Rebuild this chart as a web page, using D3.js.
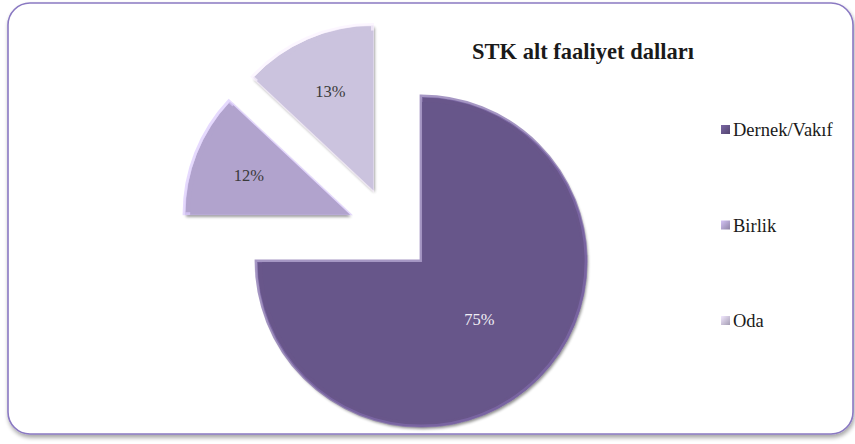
<!DOCTYPE html>
<html><head><meta charset="utf-8">
<script src="https://cdn.jsdelivr.net/npm/d3@7"></script>
</head>
<body style="margin:0">
<svg id="chart" width="855" height="444"></svg>
<script>
const title = "STK alt faaliyet dalları";
const categories = ["Dernek/Vakıf", "Birlik", "Oda"];
const values = [75, 12, 13];
const colors = ["#67568a", "#b1a3cd", "#cbc3de"];

const svg = d3.select("#chart");
const defs = svg.append("defs");

// frame shadow
const fs = defs.append("filter").attr("id","frameShadow").attr("x","-5%").attr("y","-5%").attr("width","110%").attr("height","115%");
fs.append("feGaussianBlur").attr("in","SourceAlpha").attr("stdDeviation",2);
fs.append("feOffset").attr("dx",1).attr("dy",3).attr("result","o");
fs.append("feComponentTransfer").append("feFuncA").attr("type","linear").attr("slope",0.35);
const fm = fs.append("feMerge"); fm.append("feMergeNode"); fm.append("feMergeNode").attr("in","SourceGraphic");

svg.append("rect").attr("x",8).attr("y",3).attr("width",845).attr("height",431)
  .attr("rx",22).attr("ry",22).attr("fill","#fff").attr("stroke","#8a79c2").attr("stroke-width",1.6)
  .attr("filter","url(#frameShadow)");

// slice shadow filter
const sf = defs.append("filter").attr("id","sliceShadow").attr("x","-10%").attr("y","-10%").attr("width","125%").attr("height","125%");
sf.append("feGaussianBlur").attr("in","SourceAlpha").attr("stdDeviation",1.5);
sf.append("feOffset").attr("dx",1).attr("dy",2).attr("result","o");
sf.append("feComponentTransfer").append("feFuncA").attr("type","linear").attr("slope",0.45);
const sm = sf.append("feMerge"); sm.append("feMergeNode"); sm.append("feMergeNode").attr("in","SourceGraphic");

const cx = 391, cy = 231, r = 165, explode = 44;
const pie = d3.pie().sort(null).value(d => d).startAngle(0).endAngle(2*Math.PI);
const arcs = pie(values);
const arc = d3.arc().innerRadius(0).outerRadius(r);
const inner = d3.arc().innerRadius(0).outerRadius(r - 5);

const g = svg.append("g").attr("transform", `translate(${cx},${cy})`);
const sl = g.selectAll("g.slice").data(arcs).join("g").attr("class","slice")
  .attr("transform", d => {
    const a = (d.startAngle + d.endAngle) / 2;
    return `translate(${explode*Math.sin(a)},${-explode*Math.cos(a)})`;
  });
sl.append("path").attr("d", arc).attr("fill", (d,i) => colors[i])
  .attr("filter","url(#sliceShadow)");
sl.append("path").attr("d", arc).attr("fill","none")
  .attr("stroke", (d,i) => d3.color(colors[i]).brighter(0.6)).attr("stroke-width",3).attr("stroke-opacity",0.7)
  .attr("transform","translate(-1,-1)");
sl.append("path").attr("d", inner).attr("fill", (d,i) => colors[i]);

// all text in one group, drawn last
const tg = svg.append("g");
tg.selectAll("text.lbl").data(arcs).join("text").attr("class","lbl")
  .attr("x", d => {
    const a = (d.startAngle + d.endAngle) / 2;
    const lr = (d.endAngle - d.startAngle) > Math.PI ? r*0.49 : r*0.66;
    return cx + (explode + lr) * Math.sin(a);
  })
  .attr("y", d => {
    const a = (d.startAngle + d.endAngle) / 2;
    const lr = (d.endAngle - d.startAngle) > Math.PI ? r*0.49 : r*0.66;
    return cy - (explode + lr) * Math.cos(a) + 6;
  })
  .attr("font-size",16.5).attr("text-anchor","middle")
  .style("font-family", `"Liberation Serif", "Times New Roman", monospace`)
  .attr("fill", (d,i) => i === 0 ? "#f0eef5" : "#3a3a3a")
  .text(d => Math.round(d.data) + "%");

tg.append("text").attr("x",583).attr("y",59).attr("text-anchor","middle")
  .attr("font-size",22.5).attr("font-weight","bold")
  .style("font-family", `"Liberation Serif", "Times New Roman", monospace`)
  .attr("fill","#1a1a1a").text(title);

// legend
const lgY = d3.scalePoint().domain(categories).range([136, 327]);
categories.forEach((c,i) => {
  const gr = defs.append("linearGradient").attr("id","lgg"+i).attr("x1",0).attr("y1",0).attr("x2",1).attr("y2",1);
  gr.append("stop").attr("offset","0%").attr("stop-color", d3.color(colors[i]).brighter(0.5));
  gr.append("stop").attr("offset","100%").attr("stop-color", d3.color(colors[i]).darker(0.6));
});
tg.selectAll("rect.lg").data(categories).join("rect").attr("class","lg")
  .attr("x",721).attr("y", d => lgY(d) - 11).attr("width",9).attr("height",9)
  .attr("fill", (d,i) => `url(#lgg${i})`);
tg.selectAll("text.lg").data(categories).join("text").attr("class","lg")
  .attr("x",733).attr("y", d => lgY(d)).attr("font-size",18.5)
  .style("font-family", `"Liberation Serif", "Times New Roman", monospace`)
  .attr("fill","#1a1a1a").text(d => d);
</script>
</body></html>
